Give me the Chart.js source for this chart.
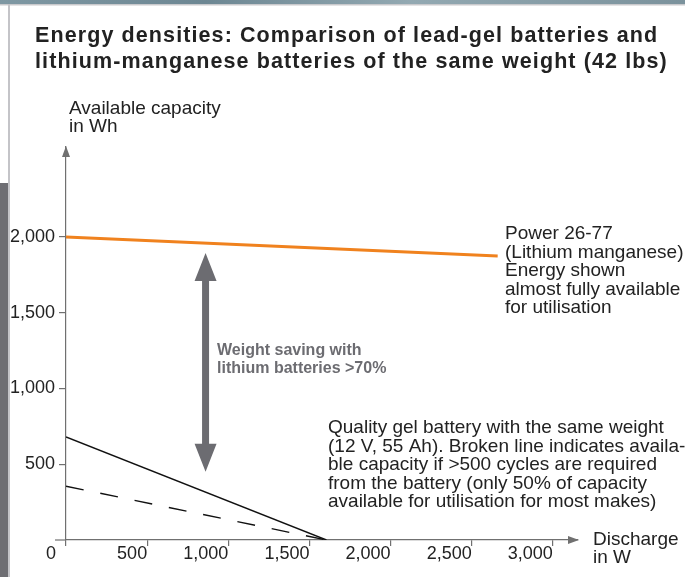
<!DOCTYPE html>
<html>
<head>
<meta charset="utf-8">
<script src="https://cdn.jsdelivr.net/npm/chart.js@4"></script>
<style>
  html, body { margin: 0; padding: 0; background: #fff; }
  #wrap { position: relative; width: 685px; height: 577px; }
</style>
</head>
<body>
<div id="wrap"><canvas id="c" width="685" height="577"></canvas></div>
<script>
// ---- data ----
const xTickValues = [0, 500, 1000, 1500, 2000, 2500, 3000];
const yTickValues = [500, 1000, 1500, 2000];

const lithiumX = [0, 2660];
const lithiumY = [2000, 1875];

const gelX = [0, 1605];
const gelY = [680, 0];

const gelHalfX = [0, 1605];
const gelHalfY = [355, 0];

// double arrow (weight saving) between these values
const savingArrowX = 860;
const savingArrowFrom = 450;
const savingArrowTo = 1895;

const titleLines = [
  'Energy densities: Comparison of lead-gel batteries and',
  'lithium-manganese batteries of the same weight (42 lbs)'
];
const yAxisTitle = ['Available capacity', 'in Wh'];
const xAxisTitle = ['Discharge', 'in W'];
const lithiumNote = ['Power 26-77', '(Lithium manganese)', 'Energy shown', 'almost fully available', 'for utilisation'];
const gelNote = [
  'Quality gel battery with the same weight',
  '(12 V, 55 Ah). Broken line indicates availa-',
  'ble capacity if >500 cycles are required',
  'from the battery (only 50% of capacity',
  'available for utilisation for most makes)'
];
const savingNote = ['Weight saving with', 'lithium batteries >70%'];

const pts = (xs, ys) => xs.map((x, i) => ({ x: x, y: ys[i] }));

const FONT = '"Liberation Sans", Arial, sans-serif';
const AXIS = '#707070';
const TEXT = '#222222';
const GREY = '#6c6c71';

function lines(ctx, arr, x, y0, step) {
  arr.forEach((t, i) => ctx.fillText(t, x, y0 + i * step));
}

const decor = {
  id: 'decor',
  beforeDraw(chart) {
    const ctx = chart.ctx;
    ctx.save();
    ctx.fillStyle = '#ffffff';
    ctx.fillRect(0, 0, chart.width, chart.height);
    // top photographic band
    const g = ctx.createLinearGradient(0, 0, chart.width, 0);
    g.addColorStop(0, '#7f98a3');
    g.addColorStop(0.3, '#6d8793');
    g.addColorStop(0.6, '#93a9b2');
    g.addColorStop(1, '#7b929c');
    ctx.fillStyle = g;
    ctx.fillRect(0, 0, chart.width, 4);
    ctx.fillStyle = '#c9c9cc';
    ctx.fillRect(0, 4, chart.width, 1.5);
    // left frame
    ctx.fillStyle = '#c4c4c8';
    ctx.fillRect(8, 4, 2, chart.height);
    ctx.fillStyle = '#6e6e73';
    ctx.fillRect(0, 183, 8, chart.height - 183);
    ctx.restore();
  },
  afterDraw(chart) {
    const ctx = chart.ctx;
    const a = chart.chartArea;
    const xs = chart.scales.x, ys = chart.scales.y;
    ctx.save();
    // axis extensions + arrowheads
    ctx.strokeStyle = AXIS;
    ctx.fillStyle = AXIS;
    ctx.lineWidth = 1.2;
    ctx.beginPath();
    ctx.moveTo(55, a.bottom); ctx.lineTo(a.left, a.bottom);
    ctx.stroke();
    // x arrow
    ctx.beginPath();
    ctx.moveTo(a.right + 1, a.bottom);
    ctx.lineTo(a.right - 10, a.bottom - 4);
    ctx.lineTo(a.right - 10, a.bottom + 4);
    ctx.closePath(); ctx.fill();
    // y arrow
    ctx.beginPath();
    ctx.moveTo(a.left, a.top - 1);
    ctx.lineTo(a.left - 4, a.top + 10);
    ctx.lineTo(a.left + 4, a.top + 10);
    ctx.closePath(); ctx.fill();

    // weight-saving double arrow
    const ax = xs.getPixelForValue(savingArrowX);
    const yTop = ys.getPixelForValue(savingArrowTo);
    const yBot = ys.getPixelForValue(savingArrowFrom);
    const hw = 11, hl = 28, sw = 3.5;
    ctx.fillStyle = GREY;
    ctx.beginPath();
    ctx.moveTo(ax, yTop);
    ctx.lineTo(ax + hw, yTop + hl);
    ctx.lineTo(ax + sw, yTop + hl);
    ctx.lineTo(ax + sw, yBot - hl);
    ctx.lineTo(ax + hw, yBot - hl);
    ctx.lineTo(ax, yBot);
    ctx.lineTo(ax - hw, yBot - hl);
    ctx.lineTo(ax - sw, yBot - hl);
    ctx.lineTo(ax - sw, yTop + hl);
    ctx.lineTo(ax - hw, yTop + hl);
    ctx.closePath();
    ctx.fill();

    // texts
    ctx.textBaseline = 'alphabetic';
    ctx.textAlign = 'left';
    ctx.fillStyle = TEXT;
    ctx.font = 'bold 21.5px ' + FONT;
    try { ctx.letterSpacing = '1.1px'; } catch (e) {}
    lines(ctx, titleLines, 35, 42, 26);
    try { ctx.letterSpacing = '0px'; } catch (e) {}
    ctx.font = '19px ' + FONT;
    lines(ctx, yAxisTitle, 69, 114, 17.5);
    lines(ctx, xAxisTitle, 593, 545, 18);
    lines(ctx, lithiumNote, 505, 239, 18.5);
    lines(ctx, gelNote, 328, 433, 18.6);
    ctx.fillStyle = GREY;
    ctx.font = 'bold 16px ' + FONT;
    lines(ctx, savingNote, 217, 355, 18);
    ctx.restore();
  }
};

new Chart(document.getElementById('c'), {
  type: 'line',
  data: {
    datasets: [
      {
        label: 'Lithium manganese',
        data: pts(lithiumX, lithiumY),
        borderColor: '#f0821e',
        borderWidth: 3,
        pointRadius: 0,
        fill: false,
        tension: 0
      },
      {
        label: 'Gel battery',
        data: pts(gelX, gelY),
        borderColor: '#111111',
        borderWidth: 1.4,
        pointRadius: 0,
        fill: false,
        tension: 0
      },
      {
        label: 'Gel battery (>500 cycles)',
        data: pts(gelHalfX, gelHalfY),
        borderColor: '#111111',
        borderWidth: 1.4,
        borderDash: [18, 17],
        pointRadius: 0,
        fill: false,
        tension: 0
      }
    ]
  },
  options: {
    responsive: false,
    animation: false,
    devicePixelRatio: 1,
    layout: { padding: { left: 0, top: 147, right: 107, bottom: 0 } },
    plugins: { legend: { display: false }, title: { display: false }, tooltip: { enabled: false } },
    scales: {
      x: {
        type: 'linear',
        min: 0,
        max: 3155,
        afterBuildTicks: s => { s.ticks = xTickValues.map(v => ({ value: v })); },
        afterFit: s => { s.height = 37; },
        grid: { display: true, drawOnChartArea: false, drawTicks: true, tickLength: 6, color: AXIS, lineWidth: 1.2 },
        border: { display: true, color: AXIS, width: 1.2 },
        ticks: {
          align: 'end',
          padding: -3,
          color: TEXT,
          font: { family: FONT, size: 18 },
          callback: v => (v === 0 ? '0  ' : v.toLocaleString('en-US'))
        }
      },
      y: {
        type: 'linear',
        min: 0,
        max: 2594,
        afterBuildTicks: s => { s.ticks = yTickValues.map(v => ({ value: v })); },
        afterFit: s => { s.width = 66; },
        grid: { display: true, drawOnChartArea: false, drawTicks: true, tickLength: 7, color: AXIS, lineWidth: 1.2 },
        border: { display: true, color: AXIS, width: 1.2 },
        ticks: {
          padding: 4,
          color: TEXT,
          font: { family: FONT, size: 18 },
          callback: v => v.toLocaleString('en-US')
        }
      }
    }
  },
  plugins: [decor]
});
</script>
</body>
</html>
